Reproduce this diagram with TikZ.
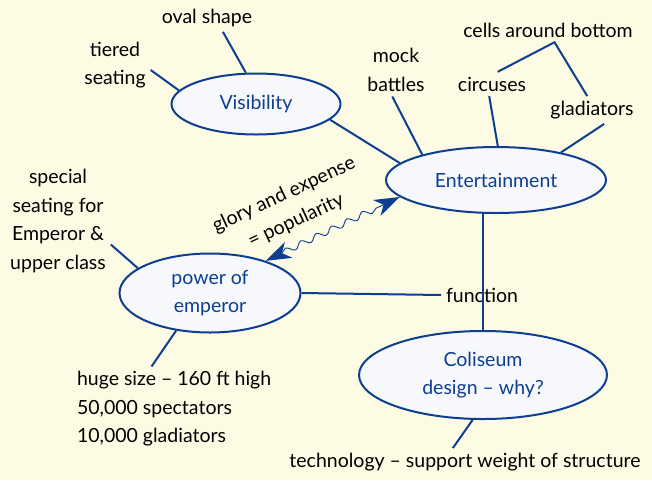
\documentclass[tikz,border=0pt]{standalone}
\usepackage{fontspec}
\setmainfont{Lato}
\usepackage{tikz}
\usetikzlibrary{shapes.geometric}
\usetikzlibrary{calc}
\usetikzlibrary{decorations.pathmorphing}

\definecolor{paper}{HTML}{FDFBE3}
\definecolor{inkblue}{HTML}{0D3E8F}
\definecolor{ovalfill}{HTML}{F6F8FB}

\tikzset{
    topic/.style={ellipse, draw=inkblue, line width=2pt, fill=ovalfill, text=inkblue, align=center, inner sep=0pt},
    note/.style={align=center, inner sep=2pt, outer sep=3pt},
    link/.style={inkblue, line width=2pt},
}

\begin{document}
\begin{tikzpicture}[x=1pt, y=-1pt, font=\fontsize{19.5}{28.5}\selectfont]
    \fill[paper] (0,0) rectangle (652,480);
    \useasboundingbox (0,0) rectangle (652,480);

    % main ovals
    \node[topic, minimum width=169pt, minimum height=61pt] (vis) at (256,104) {Visibility};
    \node[topic, minimum width=220pt, minimum height=66pt] (ent) at (496,180) {Entertainment};
    \node[topic, minimum width=181pt, minimum height=79pt] (poe) at (210,293) {power of\\emperor};
    \node[topic, minimum width=248pt, minimum height=88pt] (col) at (483,375) {Coliseum\\design -- why?};

    % notes
    \node[note] (oval) at (207,18) {oval shape};
    \node[note] (tiered) at (115,65) {tiered\\seating};
    \node[note] (mock) at (396,70) {mock\\battles};
    \node[note] (circ) at (492,84) {circuses};
    \node[note] (cells) at (548,30) {cells around bottom};
    \node[note] (glad) at (592,110) {gladiators};
    \node[note] (special) at (58,221) {special\\seating for\\Emperor \&\\upper class};
    \node[note, align=left, anchor=west] (huge) at (72,409) {huge size -- 160 ft high\\50,000 spectators\\10,000 gladiators};
    \node[note] (func) at (482,295) {function};
    \node[note] (tech) at (465,462) {technology -- support weight of structure};
    \node[note, rotate=25, inner sep=0pt] (glory) at (290,208) {glory and expense\\= popularity};

    % links
    \draw[link] (oval.-41) -- (vis.108);
    \draw[link] (tiered.-8) -- (vis.170);
    \draw[link] (vis.-12) -- (ent.170);
    \draw[link] (mock.-98) -- (ent.161);
    \draw[link] (circ.-103) -- (ent.87);
    \draw[link] (glad.-49) -- (ent.23);
    \draw[link] (circ.65) -- (cells.-62) -- (glad.109);
    \draw[link] (col.north) -- (col.north |- ent.south);
    \draw[link] (poe.east) -- (func.west);
    \draw[link] (special.-24) -- (poe.161);
    \draw[link] (huge.118) -- (poe.-132);
    \draw[link] (tech.131) -- (col.-103);

    % wavy double arrow
    \coordinate (waveA) at ($(poe.30)!18pt!(ent.190)$);
    \coordinate (waveB) at ($(ent.190)!18pt!(poe.30)$);
    \draw[inkblue, line width=0.9pt, decorate,
        decoration={snake, amplitude=3pt, segment length=17pt}] (waveA) -- (waveB);
    \fill[inkblue] (poe.30) -- ($(poe.30)!27pt!19:(waveA)$) -- (waveA)
        -- ($(poe.30)!27pt!-19:(waveA)$) -- cycle;
    \fill[inkblue] (ent.190) -- ($(ent.190)!27pt!19:(waveB)$) -- (waveB)
        -- ($(ent.190)!27pt!-19:(waveB)$) -- cycle;
\end{tikzpicture}
\end{document}
